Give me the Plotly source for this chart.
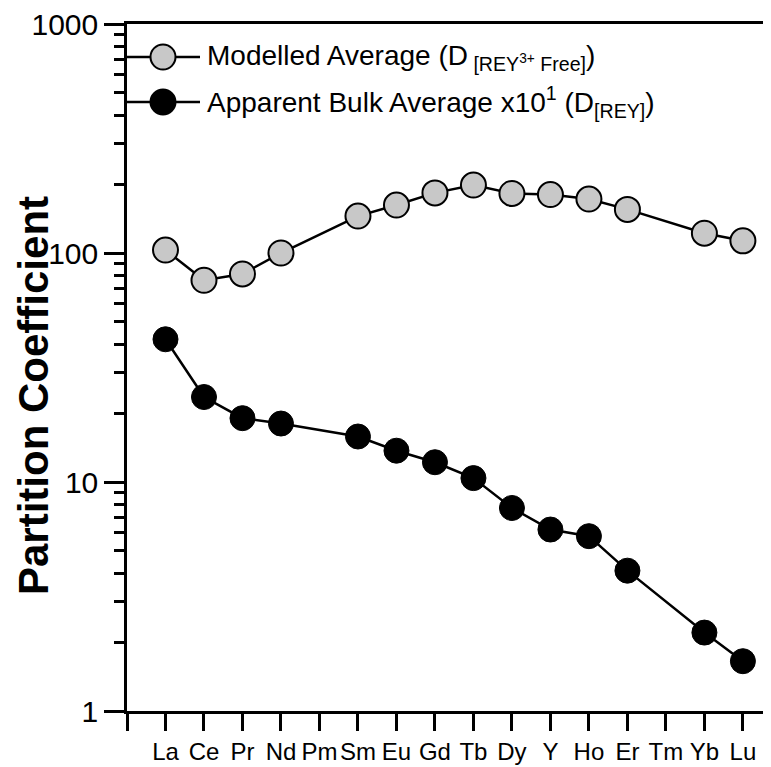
import plotly.graph_objects as go

elements = ["La", "Ce", "Pr", "Nd", "Pm", "Sm", "Eu", "Gd", "Tb", "Dy", "Y", "Ho", "Er", "Tm", "Yb", "Lu"]
modelled = [103, 76, 81, 100, None, 145, 162, 183, 198, 182, 180, 172, 155, None, 122, 113]
apparent = [42, 23.5, 19, 18, None, 15.8, 13.7, 12.2, 10.4, 7.7, 6.2, 5.8, 4.1, None, 2.2, 1.65]
ytick_vals = [1, 10, 100, 1000]
ytick_text = ["1", "10", "100", "1000"]
yminor_vals = [m * 10 ** e for e in range(3) for m in range(2, 10)]
legend_names = [
    "Modelled Average (D<sub> [REY<sup>3+</sup> Free]</sub>)",
    "Apparent Bulk Average x10<sup>1</sup> (D<sub>[REY]</sub>)",
]
y_title = "<b>Partition Coefficient</b>"

xpos = list(range(len(elements)))

fig = go.Figure()
fig.add_trace(go.Scatter(
    x=xpos, y=modelled, mode="lines+markers", connectgaps=True,
    line=dict(color="black", width=2.5),
    marker=dict(size=25, color="#c8c8c8", line=dict(color="black", width=2)),
    name=legend_names[0], showlegend=False))
fig.add_trace(go.Scatter(
    x=xpos, y=apparent, mode="lines+markers", connectgaps=True,
    line=dict(color="black", width=2.5),
    marker=dict(size=25, color="black", line=dict(color="black", width=1)),
    name=legend_names[1], showlegend=False))

# manual legend
W, H = 644, 687
rows = [(711 - 57) / H, (711 - 102) / H]
fills = ["#c8c8c8", "black"]
shapes = []
annotations = []
for r, f, name in zip(rows, fills, legend_names):
    shapes.append(dict(type="line", xref="paper", yref="paper", x0=0, x1=73 / W, y0=r, y1=r,
                       line=dict(color="black", width=2.5)))
    shapes.append(dict(type="circle", xref="paper", yref="paper", xsizemode="pixel", ysizemode="pixel",
                       xanchor=36 / W, yanchor=r, x0=-12.5, x1=12.5, y0=-12.5, y1=12.5,
                       fillcolor=f, line=dict(color="black", width=2)))
    annotations.append(dict(xref="paper", yref="paper", x=78 / W, y=r, xanchor="left", yanchor="middle",
                            text=name, showarrow=False,
                            font=dict(family="Liberation Sans, Arial", size=28, color="black")))

annotations.append(dict(xref="paper", yref="paper", x=(34 - 127) / W, y=(711 - 396) / H,
                        xanchor="center", yanchor="middle", textangle=-90, text=y_title,
                        showarrow=False, borderpad=0,
                        font=dict(family="Liberation Sans, Arial", size=42, color="black")))

fig.update_layout(
    width=763, height=759,
    margin=dict(l=119, r=0, t=16, b=56),
    paper_bgcolor="white", plot_bgcolor="white",
    font=dict(family="Liberation Sans, Arial", color="black"),
    shapes=shapes, annotations=annotations,
    xaxis=dict(
        range=[-1, 15.73], automargin=False,
        tickvals=[-1] + xpos, ticktext=[""] + elements, tickangle=0,
        ticks="outside", ticklen=17, tickwidth=2.5, tickcolor="black",
        showline=True, linecolor="black", linewidth=2.5, mirror=True,
        showgrid=False, zeroline=False, ticklabeloverflow="allow",
        tickfont=dict(size=24),
    ),
    yaxis=dict(
        type="log", range=[0, 3], automargin=False,
        tickvals=ytick_vals, ticktext=ytick_text,
        ticks="outside", ticklen=20, tickwidth=2.5, tickcolor="black",
        minor=dict(tickvals=yminor_vals, ticks="outside", ticklen=10, tickwidth=2.5,
                   tickcolor="black", showgrid=False),
        showline=True, linecolor="black", linewidth=2.5,
        showgrid=False, zeroline=False, ticklabeloverflow="allow",
        tickfont=dict(size=30),
    ),
)

fig.write_html("out.html")
